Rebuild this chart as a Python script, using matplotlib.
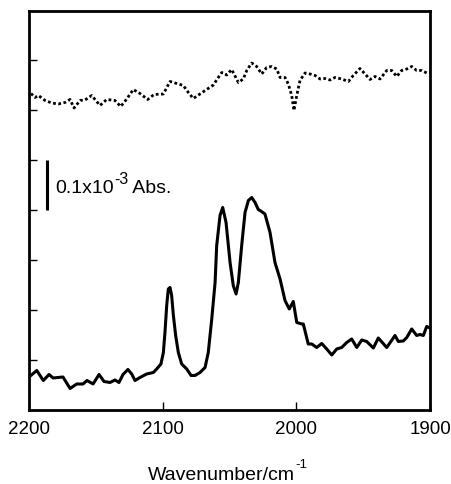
import matplotlib
matplotlib.use("Agg")
import matplotlib.pyplot as plt

plt.rcParams['font.family'] = ['Liberation Sans', 'DejaVu Sans']

# -----------------------------
# Data
# -----------------------------
# lower spectrum (solid line)
solid_wn = [2200, 2194.2, 2189.3, 2185.0, 2182.0, 2174.6, 2169.3, 2164.3, 2159.6, 2156.6,
            2152.1, 2147.6, 2143.9, 2139.4, 2135.7, 2132.7, 2129.7, 2126.0, 2123.2, 2120.7,
            2117.0, 2112.0, 2107.0, 2104.5, 2101.3, 2099.5, 2098.3, 2097.0, 2095.8, 2094.5,
            2093.3, 2092.0, 2090.3, 2088.3, 2085.8, 2082.0, 2078.8, 2075.8, 2072.1, 2068.3,
            2065.9, 2063.3, 2060.8, 2059.6, 2057.1, 2055.1, 2052.6,
            2049.6, 2047.2, 2045.1, 2043.4, 2040.9, 2038.4, 2035.9, 2033.4, 2030.9, 2028.5,
            2027.2, 2023.5, 2019.7, 2016.0, 2012.2, 2008.5, 2005.3, 2002.3, 1999.7, 1996.0,
            1994.8, 1991.1, 1988.5, 1984.8, 1981.0, 1977.3, 1973.5, 1969.8, 1966.1, 1962.3,
            1958.6, 1954.8, 1951.1, 1947.4, 1942.4, 1938.7, 1932.4, 1926.2, 1923.7, 1920.0,
            1917.4, 1913.7, 1910.0, 1907.5, 1905.0, 1902.5, 1900]
solid_abs = [0.66, 0.79, 0.59, 0.71, 0.64, 0.66, 0.43, 0.52, 0.52, 0.59,
             0.52, 0.71, 0.57, 0.55, 0.60, 0.55, 0.71, 0.81, 0.72, 0.59,
             0.65, 0.72, 0.75, 0.82, 0.92, 1.15, 1.55, 2.09, 2.42, 2.45,
             2.29, 1.89, 1.49, 1.15, 0.92, 0.82, 0.69, 0.69, 0.75, 0.85,
             1.15, 1.82, 2.55, 3.29, 3.89, 4.05, 3.75,
             2.95, 2.49, 2.32, 2.55, 3.29, 3.95, 4.19, 4.25, 4.15, 4.01,
             3.99, 3.92, 3.55, 2.95, 2.62, 2.19, 2.02, 2.17, 1.75, 1.72,
             1.72, 1.32, 1.32, 1.25, 1.33, 1.22, 1.10, 1.22, 1.25, 1.35,
             1.42, 1.25, 1.40, 1.37, 1.24, 1.44, 1.25, 1.49, 1.37, 1.38,
             1.45, 1.62, 1.49, 1.51, 1.49, 1.67, 1.64]

# upper spectrum (dotted line)
dot_wn = [2198.5, 2195.5, 2193.0, 2188.0, 2183.0, 2178.1, 2173.1, 2169.3, 2166.3, 2161.8,
          2158.1, 2153.1, 2146.9, 2141.9, 2135.7, 2131.4, 2126.9, 2122.0, 2117.0, 2111.2,
          2106.5, 2099.5, 2094.5, 2089.5, 2084.6, 2080.8, 2077.1, 2072.1, 2067.1, 2062.1,
          2058.4, 2055.8, 2052.1, 2048.4, 2043.4, 2039.7, 2037.1, 2033.4, 2029.7, 2025.9,
          2022.2, 2018.4, 2014.7, 2012.2, 2008.5, 2006.0, 2003.5, 2001.8, 1999.7, 1997.3,
          1993.5, 1989.8, 1986.0, 1982.3, 1978.6, 1974.8, 1971.1, 1966.1, 1961.1, 1957.4,
          1952.4, 1948.6, 1944.9, 1941.2, 1937.4, 1932.4, 1928.7, 1924.9, 1921.2, 1917.4,
          1913.7, 1910.0, 1906.2, 1902.5, 1900]
dot_abs = [6.33, 6.25, 6.29, 6.19, 6.14, 6.12, 6.15, 6.21, 6.04, 6.19,
           6.20, 6.29, 6.09, 6.21, 6.19, 6.07, 6.22, 6.41, 6.33, 6.21,
           6.31, 6.32, 6.57, 6.53, 6.49, 6.35, 6.23, 6.32, 6.41, 6.50,
           6.65, 6.75, 6.70, 6.81, 6.55, 6.62, 6.79, 6.94, 6.87, 6.72,
           6.85, 6.87, 6.82, 6.65, 6.65, 6.52, 6.29, 5.99, 6.29, 6.59,
           6.74, 6.72, 6.69, 6.62, 6.63, 6.60, 6.65, 6.62, 6.57, 6.69,
           6.83, 6.72, 6.61, 6.67, 6.62, 6.79, 6.79, 6.67, 6.79, 6.82,
           6.87, 6.79, 6.79, 6.74, 6.74]

x_ticks = [2200, 2100, 2000, 1900]
y_ticks = [1, 2, 3, 4, 5, 6, 7]

# scale bar (1 tick step = 0.1x10^-3 Abs.)
bar_wn = 2186.5
bar_lo, bar_hi = 4.0, 5.0


def text_with_sup(renderer, x_px, y_px, parts, ha="left"):
    # parts: list of (string, fontsize, rise_px); drawn one after another on a baseline
    items = []
    for s, size, rise in parts:
        t = fig.text(0, 0, s, fontsize=size, va="baseline", ha="left")
        w = t.get_window_extent(renderer).width
        items.append((t, w, rise))
    total = sum(w for _, w, _ in items)
    x = x_px - total / 2 if ha == "center" else x_px
    W, H = fig.bbox.width, fig.bbox.height
    for t, w, rise in items:
        t.set_position((x / W, (y_px + rise) / H))
        x += w


# -----------------------------
# Plot
# -----------------------------
fig = plt.figure(figsize=(4.52, 4.85), dpi=100)
ax = fig.add_axes([0.0642, 0.1526, 0.8872, 0.8227])

ax.plot(solid_wn, solid_abs, color="black", lw=2.2, solid_joinstyle="round")
ax.plot(dot_wn, dot_abs, color="black", lw=2.0, linestyle=(0, (1, 0.9)))

ax.plot([bar_wn, bar_wn], [bar_lo, bar_hi], color="black", lw=2.2, solid_capstyle="butt")

ax.set_xlim(2200, 1900)
ax.set_ylim(0, 7.98)
ax.set_xticks(x_ticks)
ax.set_yticks(y_ticks)
ax.set_yticklabels([])
ax.tick_params(axis="both", direction="in", length=6, width=1.0, labelsize=13.5)
ax.tick_params(axis="x", pad=7.5)
for s in ax.spines.values():
    s.set_linewidth(2.0)

renderer = fig.canvas.get_renderer()

# scale bar label, baseline at about y = 193 px from top
text_with_sup(renderer, 55.5, 485 - 193.5,
              [("0.1x10", 14, 0), ("-3", 11.5, 9.5), (" Abs.", 14, 0)])

# x axis label
text_with_sup(renderer, 227.5, 485 - 480,
              [("Wavenumber/cm", 14, 0), ("-1", 9.5, 11.5)], ha="center")

plt.savefig("out.png", dpi=100)
